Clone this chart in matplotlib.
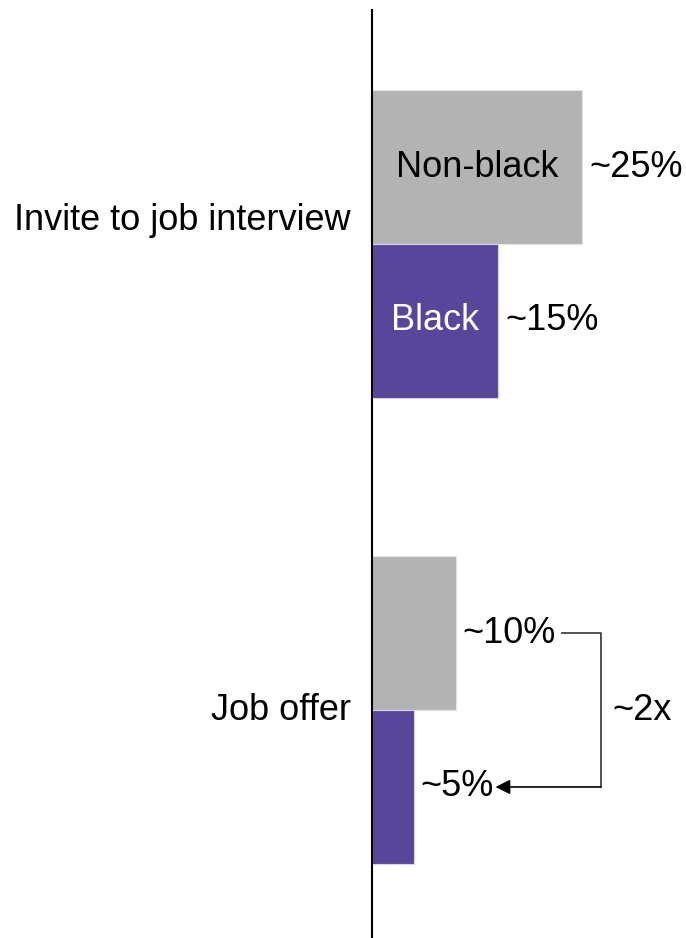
import matplotlib.pyplot as plt
import numpy as np

plt.rcParams['font.family'] = ['Liberation Sans', 'DejaVu Sans']

# categories and approximate rates (%)
etapes = ["Invite to job interview", "Job offer"]
groupes = ["Non-black", "Black"]
taux_non_noir = [25, 10]
taux_noir = [15, 5]
etiquettes_non_noir = ["~25%", "~10%"]
etiquettes_noir = ["~15%", "~5%"]
ratio = "~2x"

couleurs = {"Non-black": "#B3B3B3", "Black": "#58469A"}
texte_barre = {"Non-black": "black", "Black": "white"}

W, H, DPI = 686, 938, 100
fig = plt.figure(figsize=(W / DPI, H / DPI), dpi=DPI)
ax = fig.add_axes([371.5 / W, 0, 1 - 371.5 / W, (H - 10) / H])

y = np.arange(len(etapes))
h = 0.33
taille = 26

b1 = ax.barh(y - h / 2, taux_non_noir, height=h, color=couleurs["Non-black"],
             edgecolor="#E4E4E4", linewidth=0.8)
b2 = ax.barh(y + h / 2, taux_noir, height=h, color=couleurs["Black"],
             edgecolor="#D8D2EC", linewidth=0.8)

ax.set_xlim(0, 37.3)
ax.set_ylim(1.489, -0.502)

# valeurs a droite des barres
for barres, labels in ((b1, etiquettes_non_noir), (b2, etiquettes_noir)):
    for barre, lab in zip(barres, labels):
        ax.annotate(lab, (barre.get_width(), barre.get_y() + barre.get_height() / 2),
                    xytext=(5, 0), textcoords="offset points",
                    ha="left", va="center", fontsize=taille)

# noms des groupes dans les barres du premier bloc
for barre, g in zip((b1[0], b2[0]), groupes):
    ax.text(barre.get_width() / 2, barre.get_y() + barre.get_height() / 2, g,
            ha="center", va="center", fontsize=taille, color=texte_barre[g])

# libelles des etapes a gauche
decalage = [-0.05, 0.0]
for yi, nom, d in zip(y, etapes, decalage):
    ax.annotate(nom, (0, yi + d), xytext=(-15, 0), textcoords="offset points",
                ha="right", va="center", fontsize=taille)

# crochet ~2x entre les deux barres du second bloc
y_haut = y[1] - h / 2
y_bas = y[1] + h / 2
x_debut, x_coude, x_fleche = 22.6, 27.2, 14.7
ax.plot([x_debut, x_coude, x_coude], [y_haut, y_haut, y_bas], color="#333333", lw=1.2)
ax.annotate("", xy=(x_fleche, y_bas), xytext=(x_coude, y_bas),
            arrowprops=dict(arrowstyle="-|>", color="black", lw=1.2,
                            mutation_scale=22, shrinkA=0, shrinkB=0))
ax.annotate(ratio, (x_coude, y[1]), xytext=(8, 0), textcoords="offset points",
            ha="left", va="center", fontsize=taille)

for s in ("top", "right", "bottom"):
    ax.spines[s].set_visible(False)
ax.spines["left"].set_linewidth(1.5)
ax.set_xticks([])
ax.set_yticks([])

fig.savefig("out.png", dpi=DPI)
